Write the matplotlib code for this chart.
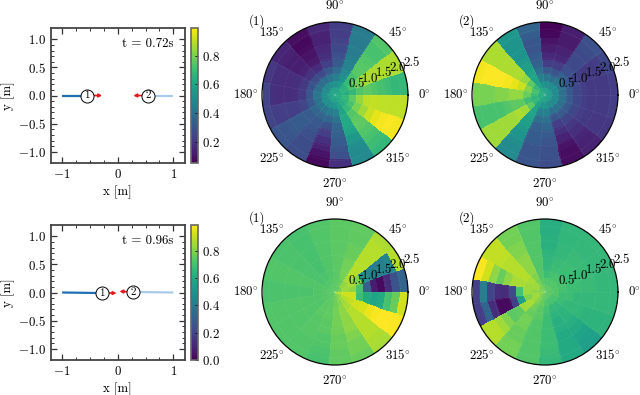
import numpy as np
import matplotlib
matplotlib.use("Agg")
import matplotlib.pyplot as plt
from matplotlib.ticker import FixedLocator

plt.rcParams["font.family"] = "cmr10"
plt.rcParams["mathtext.fontset"] = "cm"
plt.rcParams["axes.formatter.use_mathtext"] = True
plt.rcParams["font.size"] = 9.3

W, H = 640, 395

# heatmap values in percent, one row per sector (counter clockwise from 0 deg),
# one column per ring (inner to outer)
top_1 = [
    [62, 64, 68, 74, 76, 74, 72, 70, 68, 68],
    [62, 66, 72, 80, 86, 88, 88, 88, 88, 88],
    [62, 65, 69, 72, 75, 75, 74, 72, 72, 74],
    [60, 58, 54, 50, 47, 46, 44, 44, 44, 44],
    [60, 54, 46, 38, 32, 28, 26, 24, 22, 22],
    [60, 52, 42, 31, 23, 18, 16, 14, 14, 16],
    [60, 50, 38, 26, 17, 12, 10, 8, 7, 8],
    [60, 50, 38, 27, 19, 14, 13, 13, 14, 15],
    [60, 50, 40, 29, 21, 18, 17, 17, 18, 20],
    [60, 52, 42, 30, 21, 18, 17, 17, 18, 24],
    [60, 52, 42, 31, 25, 22, 22, 22, 22, 24],
    [60, 52, 42, 36, 32, 32, 32, 31, 30, 30],
    [60, 52, 42, 35, 31, 30, 28, 27, 27, 27],
    [60, 53, 44, 36, 28, 22, 18, 14, 10, 7],
    [60, 55, 47, 41, 36, 34, 32, 30, 28, 18],
    [60, 60, 60, 62, 62, 60, 56, 52, 50, 50],
    [62, 64, 68, 74, 76, 76, 74, 72, 70, 68],
    [62, 66, 72, 80, 86, 92, 96, 98, 99, 98],
    [63, 68, 76, 84, 90, 91, 90, 90, 90, 90],
]
top_2 = [
    [58, 50, 40, 31, 25, 22, 21, 21, 21, 22],
    [58, 50, 40, 31, 25, 22, 21, 21, 22, 25],
    [58, 51, 42, 34, 28, 26, 26, 26, 27, 28],
    [58, 50, 40, 30, 22, 16, 14, 12, 12, 13],
    [60, 52, 42, 31, 22, 16, 13, 10, 7, 6],
    [60, 54, 46, 39, 34, 32, 30, 30, 32, 35],
    [62, 60, 60, 60, 58, 56, 54, 54, 54, 55],
    [64, 68, 76, 84, 88, 88, 88, 88, 88, 88],
    [64, 72, 82, 92, 96, 98, 99, 99, 99, 98],
    [64, 70, 78, 84, 84, 82, 82, 80, 80, 80],
    [64, 66, 70, 76, 76, 74, 72, 72, 72, 72],
    [64, 68, 76, 86, 88, 86, 86, 86, 86, 86],
    [62, 60, 60, 60, 58, 56, 54, 52, 50, 50],
    [60, 54, 46, 39, 34, 32, 32, 30, 30, 30],
    [60, 54, 46, 40, 36, 32, 30, 28, 28, 27],
    [58, 50, 40, 30, 22, 18, 14, 10, 8, 8],
    [58, 50, 40, 31, 24, 20, 18, 15, 14, 14],
    [58, 50, 40, 31, 25, 22, 21, 20, 20, 20],
    [58, 50, 40, 31, 25, 22, 21, 21, 21, 22],
]
bottom_1 = [
    [82, 85, 82, 70, 30, 8, 3, 12, 25, 32],
    [78, 84, 86, 80, 52, 44, 42, 42, 46, 88],
    [76, 82, 86, 88, 88, 88, 88, 88, 88, 87],
    [74, 76, 78, 78, 78, 76, 76, 75, 75, 75],
    [74, 74, 74, 74, 74, 74, 74, 74, 74, 74],
    [74, 73, 72, 72, 72, 72, 72, 72, 72, 72],
    [74, 72, 71, 70, 70, 70, 70, 70, 70, 70],
    [74, 72, 71, 71, 71, 71, 71, 71, 71, 71],
    [74, 73, 72, 72, 72, 72, 72, 72, 72, 72],
    [74, 73, 72, 71, 71, 71, 71, 71, 71, 71],
    [74, 73, 72, 72, 72, 72, 72, 72, 72, 72],
    [74, 73, 72, 72, 72, 72, 72, 72, 72, 72],
    [74, 74, 74, 74, 73, 73, 73, 72, 72, 72],
    [75, 75, 75, 75, 74, 74, 72, 72, 71, 70],
    [76, 77, 78, 78, 78, 77, 76, 76, 75, 75],
    [78, 80, 82, 82, 82, 82, 80, 78, 78, 76],
    [80, 84, 86, 88, 88, 88, 88, 88, 87, 86],
    [84, 88, 90, 92, 93, 96, 98, 99, 99, 98],
    [88, 92, 92, 68, 60, 58, 60, 70, 76, 92],
]
bottom_2 = [
    [74, 72, 70, 68, 68, 67, 67, 66, 66, 66],
    [74, 72, 70, 68, 68, 67, 67, 66, 66, 66],
    [74, 72, 70, 68, 68, 67, 67, 66, 66, 66],
    [74, 72, 70, 68, 67, 66, 66, 65, 65, 65],
    [74, 72, 68, 66, 65, 64, 63, 63, 62, 62],
    [76, 74, 72, 72, 72, 72, 72, 72, 72, 72],
    [78, 78, 80, 82, 82, 82, 80, 80, 78, 78],
    [78, 84, 86, 88, 88, 88, 88, 89, 90, 90],
    [80, 84, 84, 86, 86, 82, 76, 82, 92, 98],
    [80, 82, 84, 70, 22, 12, 13, 20, 42, 18],
    [82, 84, 80, 55, 18, 3, 3, 12, 32, 18],
    [80, 84, 86, 85, 75, 74, 80, 85, 88, 88],
    [78, 80, 78, 76, 78, 78, 76, 76, 78, 78],
    [76, 76, 74, 74, 72, 72, 72, 72, 72, 72],
    [75, 72, 70, 68, 68, 68, 68, 68, 67, 66],
    [74, 70, 66, 64, 62, 62, 60, 60, 60, 60],
    [74, 70, 66, 64, 64, 62, 60, 58, 56, 55],
    [74, 70, 68, 66, 66, 65, 64, 64, 64, 64],
    [74, 72, 68, 68, 66, 66, 66, 66, 66, 66],
]

# robot positions and the end of each red arrow, top row then bottom row
times = ["t = 0.72s", "t = 0.96s"]
robot_x = [[-0.55, 0.55], [-0.28, 0.27]]
robot_y = [[0.0, 0.0], [-0.01, 0.01]]
arrow_x = [[-0.28, 0.28], [-0.02, 0.03]]
arrow_y = [[0.0, 0.0], [-0.01, 0.02]]
start_x = [-1.0, 1.0]

cbar_ranges = [(0.05, 0.995), (0.0, 0.99)]
cbar_ticks = [[0.2, 0.4, 0.6, 0.8], [0.0, 0.2, 0.4, 0.6, 0.8]]
line_colors = ["#1f6fb4", "#a9cbe9"]

angle_labels = {0: "0", 45: "45", 90: "90", 135: "135", 180: "180", 225: "225", 270: "270", 315: "315"}
r_ticks = [0.5, 1.0, 1.5, 2.0, 2.5]


def px_axes(fig, x0, y0, x1, y1, **kw):
    return fig.add_axes([x0 / W, 1 - y1 / H, (x1 - x0) / W, (y1 - y0) / H], **kw)


def draw_robots(ax, row):
    for k in range(2):
        ax.plot([start_x[k], robot_x[row][k]], [0, robot_y[row][k]], color=line_colors[k], lw=1.6, solid_capstyle="butt", zorder=2)
        ax.annotate(
            "",
            xy=(arrow_x[row][k], arrow_y[row][k]),
            xytext=(robot_x[row][k], robot_y[row][k]),
            arrowprops=dict(arrowstyle="-|>,head_width=0.1,head_length=0.2", color="#e41a1c", lw=1.2, shrinkA=0, shrinkB=0),
            zorder=3,
        )
        ax.plot(robot_x[row][k], robot_y[row][k], "o", ms=9.4, mfc="white", mec="black", mew=0.7, zorder=4)
        ax.text(robot_x[row][k], robot_y[row][k], str(k + 1), ha="center", va="center", fontsize=8, zorder=5)


def draw_map(ax, values, vmin, vmax):
    theta = np.linspace(0, 2 * np.pi, 20)
    r = np.linspace(0, 2.5, 11)
    mesh = ax.pcolormesh(theta, r, np.array(values).T / 100, cmap="viridis", vmin=vmin, vmax=vmax)
    ax.set_ylim(0, 2.5)
    ax.set_rticks(r_ticks)
    ax.set_yticklabels([str(v) for v in r_ticks], fontsize=9.3)
    ax.set_rlabel_position(21)
    ax.set_thetagrids(list(angle_labels), [rf"${v}\!^\circ$" for v in angle_labels.values()], fontsize=9.3)
    ax.tick_params(axis="x", pad=1)
    ax.xaxis.set_minor_locator(FixedLocator(theta))
    ax.yaxis.set_minor_locator(FixedLocator(r[1:]))
    ax.tick_params(which="minor", length=0)
    ax.grid(False)
    ax.grid(True, which="minor", color="white", lw=0.4, ls=(0, (1, 2)), alpha=0.22)
    ax.spines["polar"].set_linewidth(0.9)
    return mesh


fig = plt.figure(figsize=(6.4, 3.95), dpi=100)

rows = [(28, 163, 95, 21), (225, 360, 292, 218)]
maps = [(top_1, top_2), (bottom_1, bottom_2)]
for row, (y0, y1, cy, label_y) in enumerate(rows):
    ax = px_axes(fig, 51, y0, 184.5, y1)
    draw_robots(ax, row)
    ax.set_xlim(-1.2, 1.2)
    ax.set_ylim(-1.2, 1.2)
    ax.set_xticks([-1, 0, 1])
    ax.set_yticks([-1, -0.5, 0, 0.5, 1])
    ax.set_xticks(np.arange(-1, 1.01, 0.25), minor=True)
    ax.set_yticks(np.arange(-1, 1.01, 0.1), minor=True)
    ax.tick_params(which="major", direction="in", top=True, right=True, length=4, width=0.9, color="#333333")
    ax.tick_params(which="minor", direction="in", top=True, right=True, length=2, width=0.7, color="#333333")
    ax.set_xlabel("x [m]", labelpad=3)
    ax.set_ylabel("y [m]", labelpad=2)
    ax.text(0.92, 0.885, times[row], transform=ax.transAxes, ha="right", va="center")
    for s in ax.spines.values():
        s.set_linewidth(1.3)
        s.set_color("#444444")

    vmin, vmax = cbar_ranges[row]
    mesh = None
    for k, cx in enumerate([335, 545]):
        pax = px_axes(fig, cx - 73, cy - 73, cx + 73, cy + 73, projection="polar")
        mesh = draw_map(pax, maps[row][k], vmin, vmax)
        fig.text((cx - 78) / W, 1 - label_y / H, f"({k + 1})", ha="center", va="center")

    cax = px_axes(fig, 191, y0, 198, y1)
    cbar = fig.colorbar(mesh, cax=cax)
    cbar.set_ticks(cbar_ticks[row])
    cbar.ax.tick_params(direction="in", length=2.5, width=0.6, pad=3)
    cbar.outline.set_linewidth(1.2)
    cbar.outline.set_edgecolor("#666666")

fig.savefig("out.png", dpi=100)
